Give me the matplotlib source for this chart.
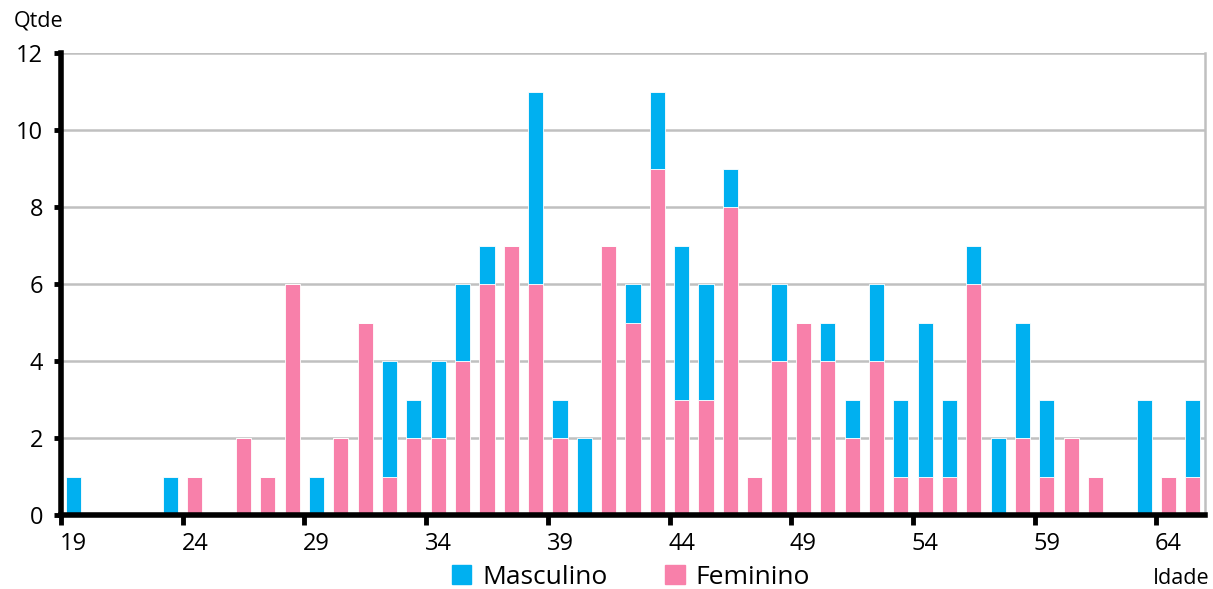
import matplotlib.pyplot as plt
import numpy as np
from matplotlib.patches import Patch

# idades de 19 a 65
idades = list(range(19, 66))
feminino = [0, 0, 0, 0, 0, 1, 0, 2, 1, 6, 0, 2, 5, 1, 2, 2, 4, 6, 7, 6, 2, 0, 7, 5,
            9, 3, 3, 8, 1, 4, 5, 4, 2, 4, 1, 1, 1, 6, 0, 2, 1, 2, 1, 0, 0, 1, 1]
masculino = [1, 0, 0, 0, 1, 0, 0, 0, 0, 0, 1, 0, 0, 3, 1, 2, 2, 1, 0, 5, 1, 2, 0, 1,
             2, 4, 3, 1, 0, 2, 0, 1, 1, 2, 2, 4, 2, 1, 2, 3, 2, 0, 0, 0, 3, 0, 2]
rotulos = list(range(19, 66, 5))

cor_m = "#00B0F0"
cor_f = "#F880AA"

plt.rcParams["font.family"] = ["Open Sans", "DejaVu Sans"]

fig = plt.figure(figsize=(12.13, 5.89), dpi=100)
ax = fig.add_axes([0.0503, 0.1256, 0.9431, 0.7844])
ax.set_axisbelow(True)

x = np.array(idades) + 0.5
ax.bar(x, feminino, width=0.62, color=cor_f, edgecolor="white", linewidth=0.6, zorder=2)
ax.bar(x, masculino, width=0.62, bottom=feminino, color=cor_m, edgecolor="white",
       linewidth=0.6, zorder=2)

ax.set_xlim(19, 66)
ax.set_ylim(0, 12)
ax.set_yticks(range(0, 13, 2))
ax.yaxis.grid(True, color="#C0C0C0", linewidth=1.8)

# ticks nas bordas, rotulos no centro das barras
ax.set_xticks(rotulos)
ax.set_xticklabels([])
ax.set_xticks(np.array(rotulos) + 0.5, minor=True)
ax.set_xticklabels([str(r) for r in rotulos], minor=True)
ax.tick_params(axis="x", which="major", direction="out", length=7, width=3.5, color="black")
ax.tick_params(axis="x", which="minor", length=0, labelsize=17, pad=12)
ax.tick_params(axis="y", direction="out", length=5, width=3.5, labelsize=17, pad=8)

for s in ["left", "bottom"]:
    ax.spines[s].set_linewidth(4)
    ax.spines[s].set_color("black")
    ax.spines[s].set_zorder(3)
ax.spines["top"].set_visible(False)
ax.spines["right"].set_color("#C0C0C0")
ax.spines["right"].set_linewidth(1.8)

fig.text(0.011, 0.965, "Qtde", fontsize=15.5, ha="left", va="center")
fig.text(0.997, 0.018, "Idade", fontsize=15.5, ha="right", va="center")

handles = [Patch(color=cor_m, label="Masculino"), Patch(color=cor_f, label="Feminino")]
fig.legend(handles=handles, loc="center", bbox_to_anchor=(0.52, 0.02), ncol=2,
           frameon=False, fontsize=19, handlelength=0.75, handleheight=0.75,
           handletextpad=0.4, columnspacing=2.2)

fig.savefig("out.png", dpi=100)
